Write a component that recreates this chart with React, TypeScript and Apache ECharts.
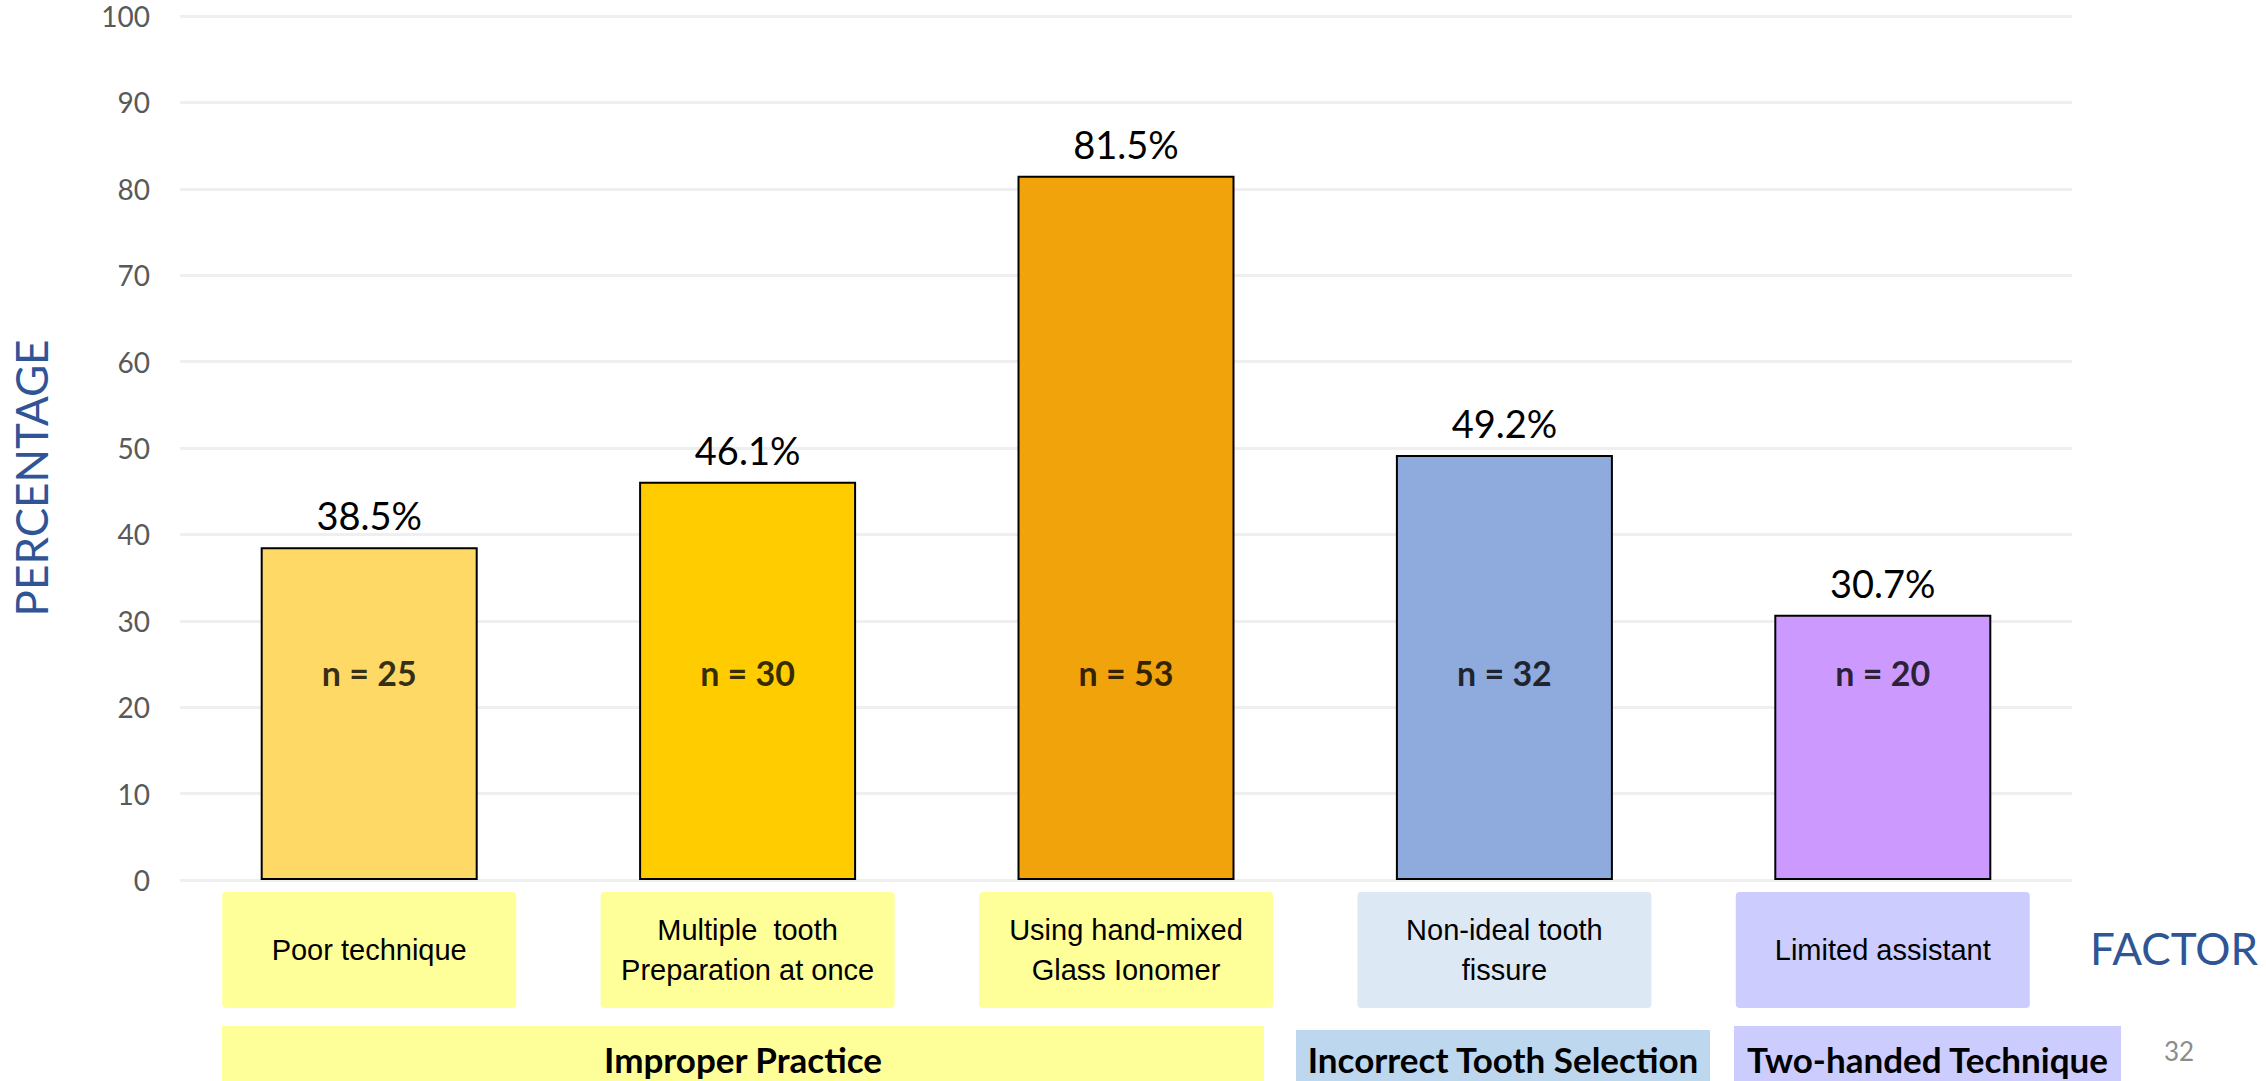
import React, { useEffect, useRef } from "react";
import * as echarts from "echarts";

const categories = [
  "Poor technique",
  "Multiple  tooth\nPreparation at once",
  "Using hand-mixed\nGlass Ionomer",
  "Non-ideal tooth\nfissure",
  "Limited assistant",
];
const percentages = [38.5, 46.1, 81.5, 49.2, 30.7];
const counts = [25, 30, 53, 32, 20];
const barColors = ["#FFD966", "#FFCC00", "#F0A30A", "#8FAADC", "#CC99FF"];
const boxColors = ["#FFFF99", "#FFFF99", "#FFFF99", "#DDE8F5", "#CCCCFF"];
const yTicks = [0, 10, 20, 30, 40, 50, 60, 70, 80, 90, 100];
const groups = [
  { name: "Improper Practice", color: "#FFFF99" },
  { name: "Incorrect Tooth Selection", color: "#BDD7EE" },
  { name: "Two-handed Technique", color: "#CCCCFF" },
];
const nLabelLevel = 24;
const yAxisTitle = "PERCENTAGE";
const xAxisTitle = "FACTOR";
const pageNumber = "32";

export default function App() {
  const ref = useRef<HTMLDivElement>(null);

  useEffect(() => {
    if (!ref.current) return;
    const chart = echarts.init(ref.current, null, { renderer: "svg" });

    const groupBoxes = [
      { x: 222, y: 1026, w: 1042 },
      { x: 1296, y: 1030, w: 414 },
      { x: 1734, y: 1026, w: 387 },
    ];

    const graphics: any[] = [];
    groups.forEach((g, i) => {
      const b = groupBoxes[i];
      graphics.push({
        type: "rect",
        shape: { x: b.x, y: b.y, width: b.w, height: 70 },
        style: { fill: g.color },
        silent: true,
      });
      graphics.push({
        type: "text",
        x: b.x + b.w / 2,
        y: 1059,
        style: {
          text: g.name,
          fill: "#000000",
          font: "bold 35px Lato",
          textAlign: "center",
          textVerticalAlign: "middle",
        },
        silent: true,
      });
    });
    graphics.push({
      type: "text",
      x: 31,
      y: 478,
      rotation: Math.PI / 2,
      style: {
        text: yAxisTitle,
        fill: "#2F5597",
        font: "44px Lato",
        textAlign: "center",
        textVerticalAlign: "middle",
      },
      silent: true,
    });
    graphics.push({
      type: "text",
      x: 2090,
      y: 948,
      style: {
        text: xAxisTitle,
        fill: "#2F5597",
        font: "44px Lato",
        textAlign: "left",
        textVerticalAlign: "middle",
      },
      silent: true,
    });
    graphics.push({
      type: "text",
      x: 2179,
      y: 1051,
      style: {
        text: pageNumber,
        fill: "#8C8C8C",
        font: "26px Lato",
        textAlign: "center",
        textVerticalAlign: "middle",
      },
      silent: true,
    });

    chart.setOption({
      animation: false,
      backgroundColor: "#FFFFFF",
      grid: { left: 180, right: 194, top: 16, bottom: 201, containLabel: false },
      xAxis: {
        type: "category",
        data: categories.map((c, i) => ({
          value: c,
          textStyle: {
            backgroundColor: boxColors[i],
            padding: c.includes("\n") ? [18, 0, 18, 0] : [38, 0, 38, 0],
          },
        })),
        axisLine: { show: false },
        axisTick: { show: false },
        axisLabel: {
          interval: 0,
          margin: 12,
          width: 294,
          overflow: "none",
          fontFamily: "Liberation Sans",
          fontSize: 29,
          lineHeight: 40,
          color: "#000000",
          align: "center",
          borderRadius: 4,
        },
      },
      yAxis: {
        type: "value",
        min: yTicks[0],
        max: yTicks[yTicks.length - 1],
        interval: 10,
        axisLine: { show: false },
        axisTick: { show: false },
        axisLabel: {
          margin: 30,
          fontFamily: "Lato",
          fontSize: 28,
          color: "#595959",
        },
        splitLine: { lineStyle: { color: "#EFEFEF", width: 3 } },
      },
      series: [
        {
          type: "bar",
          barWidth: 217,
          data: percentages.map((v, i) => ({
            value: v,
            itemStyle: { color: barColors[i], borderColor: "#000000", borderWidth: 2 },
          })),
          label: {
            show: true,
            position: "top",
            distance: 13,
            formatter: (p: any) => `${p.value}%`,
            fontFamily: "Lato",
            fontSize: 38,
            color: "#000000",
          },
        },
        {
          type: "scatter",
          symbolSize: 0,
          silent: true,
          data: counts.map((n, i) => [i, nLabelLevel, n]),
          label: {
            show: true,
            position: "inside",
            formatter: (p: any) => `n = ${p.value[2]}`,
            fontFamily: "Lato",
            fontWeight: "bold",
            fontSize: 34,
            color: "#000000",
          },
        },
      ],
      graphic: graphics,
    });

    return () => chart.dispose();
  }, []);

  return (
    <div
      ref={ref}
      style={{ position: "fixed", left: 0, top: 0, width: 2266, height: 1081 }}
    />
  );
}
